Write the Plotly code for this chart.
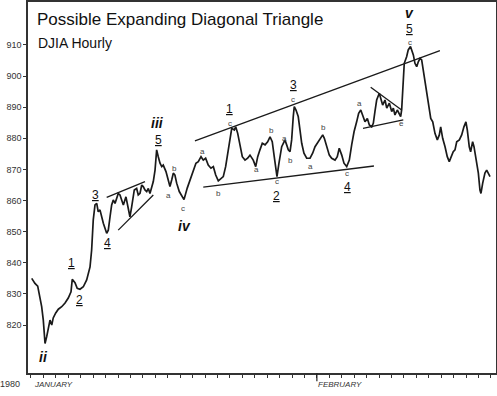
import plotly.graph_objects as go

# ---- data (x in trading-day units from Jan 2, 1980; y = DJIA) ----
hours = [0.06,0.32,0.54,0.72,0.86,0.99,1.07,1.13,1.26,1.39,
         1.53,1.67,1.79,1.99,2.20,2.47,2.74,3.00,3.22,3.32,
         3.54,3.72,3.94,4.21,4.48,4.75,4.88,5.01,5.15,5.29,
         5.41,5.55,5.82,6.09,6.22,6.36,6.49,6.62,6.76,6.89,
         7.02,7.16,7.30,7.43,7.64,7.83,7.96,8.10,8.23,8.31,
         8.50,8.63,8.77,8.91,9.03,9.17,9.31,9.44,9.57,9.71,
         9.84,9.98,10.11,10.24,10.38,10.52,10.64,10.86,11.05,11.18,
         11.32,11.45,11.58,11.72,11.93,12.31,12.57,12.79,13.06,13.27,
         13.46,13.68,13.86,14.05,14.26,14.48,14.67,14.86,15.07,15.29,
         15.47,15.66,15.82,16.01,16.15,16.36,16.47,16.63,16.81,17.00,
         17.22,17.43,17.62,17.88,18.08,18.24,18.42,18.61,18.83,19.04,
         19.23,19.41,19.57,19.69,19.79,19.95,20.17,20.30,20.43,20.57,
         20.70,20.84,20.97,21.10,21.18,21.32,21.50,21.64,21.78,21.96,
         22.18,22.45,22.66,22.85,23.03,23.25,23.47,23.60,23.79,24.00,
         24.19,24.46,24.64,24.80,25.00,25.18,25.40,25.61,25.80,25.99,
         26.20,26.36,26.53,26.69,26.87,27.06,27.22,27.41,27.54,27.67,
         27.81,28.02,28.13,28.29,28.48,28.62,28.83,29.02,29.15,29.28,
         29.47,29.63,29.74,29.82,29.90,30.03,30.22,30.35,30.53,30.63,
         30.76,30.89,31.03,31.16,31.30,31.43,31.56,31.70,31.88,32.04,
         32.16,32.32,32.50,32.69,32.85,32.96,33.12,33.31,33.49,33.65,
         33.85,33.97,34.11,34.25,34.46,34.65,34.83,34.99,35.10,35.26,
         35.37,35.53,35.64,35.80,35.99,36.12,36.20,36.34,36.52,36.66,
         36.79,36.93]

djia = [835.0,833.4,832.5,829.1,825.9,821.6,818.4,814.1,816.2,819.5,
        821.6,820.0,822.3,823.9,825.1,825.9,827.1,828.7,830.7,834.7,
        833.6,831.8,831.5,832.3,834.5,838.7,844.1,853.8,858.6,859.1,
        856.4,857.0,852.7,849.5,850.5,854.8,858.6,860.2,859.1,860.7,
        862.3,861.8,860.2,858.6,861.2,857.5,854.8,858.0,861.2,863.4,
        863.9,861.8,862.3,865.0,864.5,863.4,862.9,863.9,862.3,864.5,
        866.1,869.8,876.3,874.1,872.0,870.9,871.4,869.3,866.6,864.5,
        866.6,868.8,868.2,865.6,862.9,860.3,864.0,866.6,869.8,872.0,
        872.5,874.1,873.0,873.6,871.4,870.4,870.9,868.2,866.3,867.2,
        867.7,870.9,875.2,880.5,883.2,882.7,883.7,881.6,877.3,874.1,
        873.0,873.6,874.6,873.0,870.9,874.1,876.3,878.4,877.9,878.9,
        880.5,878.9,874.1,869.3,867.7,872.0,877.3,878.4,879.5,877.9,
        876.3,875.7,879.5,887.0,890.2,889.1,887.0,882.7,878.4,875.2,
        873.6,873.6,875.2,877.3,878.4,879.5,881.1,880.0,877.3,874.6,
        873.6,873.0,874.1,876.8,874.6,872.0,870.9,873.0,877.9,882.1,
        885.3,888.0,889.1,887.0,885.3,886.4,884.3,883.7,884.8,888.6,
        892.3,894.5,892.9,890.7,892.3,889.7,891.3,888.6,889.7,887.5,
        889.1,887.5,887.0,889.1,896.6,904.1,906.2,908.4,909.5,908.4,
        906.8,904.1,903.0,904.6,905.7,905.2,902.0,898.7,893.9,889.1,
        886.4,885.3,881.6,879.5,881.1,883.7,880.0,877.3,874.1,872.5,
        874.6,875.7,876.3,878.9,879.5,881.1,883.7,885.3,882.7,877.3,
        875.7,878.9,877.3,873.0,868.8,863.4,862.3,865.6,868.8,869.8,
        868.8,867.7]

# trend lines (start, end)
upper_x = [13.19, 32.90]
upper_y = [879.2, 908.2]
lower_x = [13.86, 27.59]
lower_y = [864.3, 871.1]
tri1_top_x = [6.09, 9.17]
tri1_top_y = [861.0, 866.1]
tri1_bot_x = [7.02, 9.84]
tri1_bot_y = [850.5, 861.8]
tri2_top_x = [27.33, 29.82]
tri2_top_y = [896.4, 889.1]
tri2_bot_x = [26.71, 29.95]
tri2_bot_y = [883.2, 885.9]

# wave labels
num_text = ["1", "2", "3", "4", "5", "1", "2", "3", "4", "5"]
num_x = [3.27, 3.94, 5.15, 6.14, 10.24, 16.01, 19.77, 21.10, 25.45, 30.49]
num_y = [839.8, 828.0, 861.8, 846.3, 879.5, 889.4, 861.6, 897.2, 864.3, 915.0]

roman_text = ["ii", "iii", "iv", "v"]
roman_x = [0.99, 10.20, 12.39, 30.49]
roman_y = [809.7, 884.8, 851.9, 920.4]

abc_text = ["a", "b", "c", "a", "b", "c", "a", "b", "c", "a", "b", "c",
            "a", "b", "c", "a", "c", "e"]
abc_x = [11.10, 11.58, 12.25, 13.81, 15.07, 16.01, 18.16, 19.31, 19.77,
         20.43, 20.84, 21.10, 22.45, 23.52, 25.45, 26.41, 30.49, 29.82]
abc_y = [861.5, 870.4, 857.5, 875.9, 862.3, 884.9, 870.0, 882.4, 866.1,
         879.8, 873.0, 892.6, 871.1, 883.4, 868.7, 891.3, 910.9, 884.9]

y_ticks = [820, 830, 840, 850, 860, 870, 880, 890, 900, 910]
day_ticks = list(range(38))
feb_day = 23
title = "Possible Expanding Diagonal Triangle"
subtitle = "DJIA Hourly"

fig = go.Figure()
fig.add_trace(go.Scatter(x=hours, y=djia, mode="lines",
                         line=dict(color="#1a1a1a", width=1.7),
                         showlegend=False, hoverinfo="skip"))
for lx, ly in [(upper_x, upper_y), (lower_x, lower_y), (tri1_top_x, tri1_top_y),
               (tri1_bot_x, tri1_bot_y), (tri2_top_x, tri2_top_y), (tri2_bot_x, tri2_bot_y)]:
    fig.add_trace(go.Scatter(x=lx, y=ly, mode="lines",
                             line=dict(color="#1a1a1a", width=1.3),
                             showlegend=False, hoverinfo="skip"))

ann = []
for t, x, y in zip(num_text, num_x, num_y):
    ann.append(dict(x=x, y=y, xref="x", yref="y", text="<u>" + t + "</u>",
                    showarrow=False, borderpad=0,
                    font=dict(family="Liberation Sans", size=12, color="#111")))
for t, x, y in zip(roman_text, roman_x, roman_y):
    ann.append(dict(x=x, y=y, xref="x", yref="y", text="<b><i>" + t + "</i></b>",
                    showarrow=False, borderpad=0,
                    font=dict(family="Liberation Sans", size=14, color="#111")))
for t, x, y in zip(abc_text, abc_x, abc_y):
    ann.append(dict(x=x, y=y, xref="x", yref="y", text=t,
                    showarrow=False, borderpad=0,
                    font=dict(family="Liberation Sans", size=8, color="#444")))

ann.append(dict(x=0.015, y=0.952, xref="paper", yref="paper", text=title,
                xanchor="left", yanchor="middle", showarrow=False,
                font=dict(family="Liberation Sans", size=17, color="#111")))
ann.append(dict(x=0.018, y=0.889, xref="paper", yref="paper", text=subtitle,
                xanchor="left", yanchor="middle", showarrow=False,
                font=dict(family="Liberation Sans", size=14, color="#111")))
ann.append(dict(x=-0.012, y=-0.03, xref="paper", yref="paper", text="1980",
                xanchor="right", yanchor="middle", showarrow=False,
                font=dict(family="Liberation Sans", size=9, color="#333")))
ann.append(dict(x=0.1, y=-0.03, xref="x", yref="paper", text="<i>JANUARY</i>",
                xanchor="left", yanchor="middle", showarrow=False,
                font=dict(family="Liberation Sans", size=8, color="#333")))
ann.append(dict(x=feb_day - 0.1, y=-0.03, xref="x", yref="paper", text="<i>FEBRUARY</i>",
                xanchor="left", yanchor="middle", showarrow=False,
                font=dict(family="Liberation Sans", size=8, color="#333")))

fig.add_shape(type="line", xref="x", yref="paper", x0=feb_day, x1=feb_day,
              y0=0, y1=-0.022, line=dict(color="#222", width=1.2))

fig.update_layout(
    width=497, height=396,
    margin=dict(l=28, r=1, t=2, b=23, autoexpand=False),
    paper_bgcolor="white", plot_bgcolor="white",
    annotations=ann,
    xaxis=dict(range=[-0.24, 37.41], tickvals=day_ticks, showticklabels=False,
               ticks="outside", ticklen=3, tickwidth=1, tickcolor="#333",
               showline=True, linecolor="#333", linewidth=1.5, mirror=True,
               showgrid=False, zeroline=False, automargin=False),
    yaxis=dict(range=[804.6, 923.8], tickvals=y_ticks,
               ticks="outside", ticklen=3, tickwidth=1.2, tickcolor="#333",
               tickfont=dict(family="Liberation Sans", size=9, color="#333"),
               showline=True, linecolor="#333", linewidth=1.5, mirror=True,
               showgrid=False, zeroline=False, automargin=False),
)

fig.write_html("out.html", config={"displayModeBar": False},
               post_script="document.body.style.margin='0px';document.body.style.overflow='hidden';")
